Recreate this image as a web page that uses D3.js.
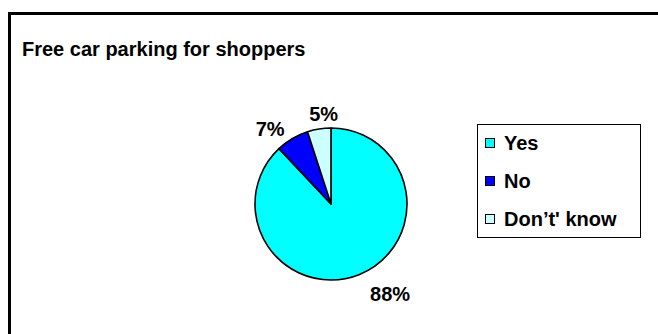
<!DOCTYPE html>
<html>
<head>
<meta charset="utf-8">
<script src="https://cdn.jsdelivr.net/npm/d3@7"></script>
<style>
  html, body { margin: 0; padding: 0; background: #fff; }
  svg { display: block; }
  text { font-family: "Liberation Sans", Arial, sans-serif; font-weight: bold; fill: #000; }
</style>
</head>
<body>
<svg id="chart" width="658" height="334"></svg>
<script>
const title = "Free car parking for shoppers";
const categories = ["Yes", "No", "Don\u2019t' know"];
const values = [88, 7, 5];
const colors = ["#00ffff", "#0000ff", "#ccffff"];

const svg = d3.select("#chart");

// outer chart frame (runs off the right and bottom edges)
svg.append("rect")
  .attr("x", 9.5).attr("y", 13.5)
  .attr("width", 720).attr("height", 400)
  .attr("fill", "#fff").attr("stroke", "#000").attr("stroke-width", 3);

svg.append("text")
  .attr("x", 22).attr("y", 56)
  .style("font-size", "20px")
  .text(title);

const cx = 331, cy = 204, r = 76;
const pie = d3.pie().sort(null).value(d => d)(values);
const arc = d3.arc().innerRadius(0).outerRadius(r);

const g = svg.append("g").attr("transform", `translate(${cx},${cy})`);
g.selectAll("path")
  .data(pie)
  .join("path")
  .attr("d", arc)
  .attr("fill", (d, i) => colors[i])
  .attr("stroke", "#000")
  .attr("stroke-width", 1.6)
  .attr("stroke-linejoin", "round");

// percentage labels placed outside the slices
const labelArc = d3.arc().innerRadius(98).outerRadius(98);
const labelAdjust = [[23, -1], [-11, 9], [8, 7]];
g.selectAll("text.pct")
  .data(pie)
  .join("text")
  .attr("class", "pct")
  .attr("x", (d, i) => labelArc.centroid(d)[0] + labelAdjust[i][0])
  .attr("y", (d, i) => labelArc.centroid(d)[1] + labelAdjust[i][1])
  .attr("text-anchor", "middle")
  .attr("dominant-baseline", "central")
  .style("font-size", "20px")
  .text(d => d.value + "%");

// legend
const lx = 477.5, ly = 124.5, lw = 163, lh = 113;
svg.append("rect")
  .attr("x", lx).attr("y", ly).attr("width", lw).attr("height", lh)
  .attr("fill", "#fff").attr("stroke", "#000").attr("stroke-width", 1);

const legendY = d3.scalePoint().domain(categories).range([143, 219]);
const items = svg.selectAll("g.leg")
  .data(categories)
  .join("g")
  .attr("class", "leg")
  .attr("transform", d => `translate(0,${legendY(d)})`);
items.append("rect")
  .attr("x", 485.5).attr("y", -4.5).attr("width", 9).attr("height", 9)
  .attr("fill", (d, i) => colors[i])
  .attr("stroke", "#000").attr("stroke-width", 1);
items.append("text")
  .attr("x", 504).attr("y", 0)
  .attr("dominant-baseline", "central")
  .style("font-size", "20px")
  .text(d => d);
</script>
</body>
</html>
